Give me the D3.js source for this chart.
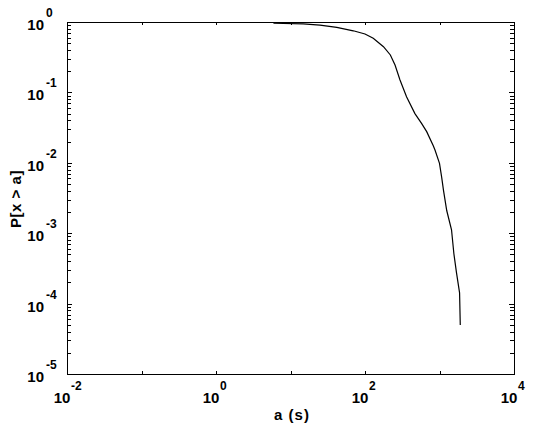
<!DOCTYPE html>
<html>
<head>
<meta charset="utf-8">
<script src="https://cdn.jsdelivr.net/npm/d3@7"></script>
<style>
  html, body { margin: 0; padding: 0; background: #fff; }
  svg text { font-family: "Liberation Sans", Arial, sans-serif; font-weight: bold; fill: #000; }
</style>
</head>
<body>
<svg id="chart" width="538" height="432"></svg>
<script>
// complementary CDF
const aVals = [5.9, 14.8, 24.9, 41.8, 69.6, 100, 129, 177, 219, 253, 295, 361, 468, 577, 673, 825, 870, 1000, 1070, 1130, 1250, 1450, 1560, 1690, 1860, 1900];
const pVals = [0.96, 0.94, 0.90, 0.84, 0.75, 0.675, 0.586, 0.446, 0.34, 0.245, 0.15, 0.087, 0.050, 0.036, 0.0277, 0.0175, 0.0152, 0.0098, 0.0062, 0.0041, 0.0021, 0.00112, 0.00051, 0.000276, 0.000142, 0.0000496];

const xTickExps = [-2, -1, 0, 1, 2, 3, 4];
const xLabelExps = ["-2", "0", "2", "4"];
const yTickExps = ["0", "-1", "-2", "-3", "-4", "-5"];

const svg = d3.select("#chart");
const L = 67, R = 514, T = 22, B = 374;

const x = d3.scaleLog().domain([1e-2, 1e4]).range([L, R]);
const y = d3.scaleLog().domain([1e-5, 1e0]).range([B, T]);

// frame
svg.append("rect")
  .attr("x", L + 0.5).attr("y", T + 0.5)
  .attr("width", R - L).attr("height", B - T)
  .attr("fill", "none").attr("stroke", "#000").attr("stroke-width", 1)
  .attr("shape-rendering", "crispEdges");

const gTicks = svg.append("g").attr("stroke", "#000").attr("shape-rendering", "crispEdges");

// x ticks (bottom & top), one per decade
xTickExps.forEach(e => {
  const px = Math.round(x(Math.pow(10, e))) + 0.5;
  gTicks.append("line").attr("x1", px).attr("x2", px).attr("y1", B).attr("y2", B - 3);
  gTicks.append("line").attr("x1", px).attr("x2", px).attr("y1", T).attr("y2", T + 3);
});

// y ticks with minors (left & right)
for (let e = -5; e <= 0; e++) {
  for (let m = 1; m <= 9; m++) {
    const v = m * Math.pow(10, e);
    if (v > 1) break;
    const py = Math.round(y(v)) + 0.5;
    const len = m === 1 ? 5 : 4;
    gTicks.append("line").attr("x1", L).attr("x2", L + len).attr("y1", py).attr("y2", py);
    gTicks.append("line").attr("x1", R).attr("x2", R - len).attr("y1", py).attr("y2", py);
  }
}

// x tick labels "10^e"
xLabelExps.forEach(e => {
  const px = x(Math.pow(10, +e));
  svg.append("text")
    .attr("x", px - 5).attr("y", 403)
    .attr("text-anchor", "middle").attr("font-size", 15)
    .text("10");
  svg.append("text")
    .attr("x", px + 4).attr("y", 390)
    .attr("font-size", 12)
    .text(e);
});

// y tick labels
yTickExps.forEach(e => {
  const py = y(Math.pow(10, +e));
  svg.append("text")
    .attr("x", 44).attr("y", py + 8)
    .attr("text-anchor", "end").attr("font-size", 15)
    .text("10");
  svg.append("text")
    .attr("x", 46).attr("y", py - 5)
    .attr("font-size", 12)
    .text(e);
});

// axis titles
svg.append("text")
  .attr("x", 292).attr("y", 420)
  .attr("text-anchor", "middle").attr("font-size", 15)
  .attr("letter-spacing", 1)
  .text("a (s)");

svg.append("text")
  .attr("transform", "translate(21,199) rotate(-90)")
  .attr("text-anchor", "middle").attr("font-size", 15)
  .attr("letter-spacing", 0.5)
  .text("P[x > a]");

// curve
const pts = aVals.map((a, i) => [a, pVals[i]]);
svg.append("path")
  .datum(pts)
  .attr("fill", "none").attr("stroke", "#000").attr("stroke-width", 1.2)
  .attr("d", d3.line().x(d => x(d[0])).y(d => y(d[1])));
</script>
</body>
</html>
